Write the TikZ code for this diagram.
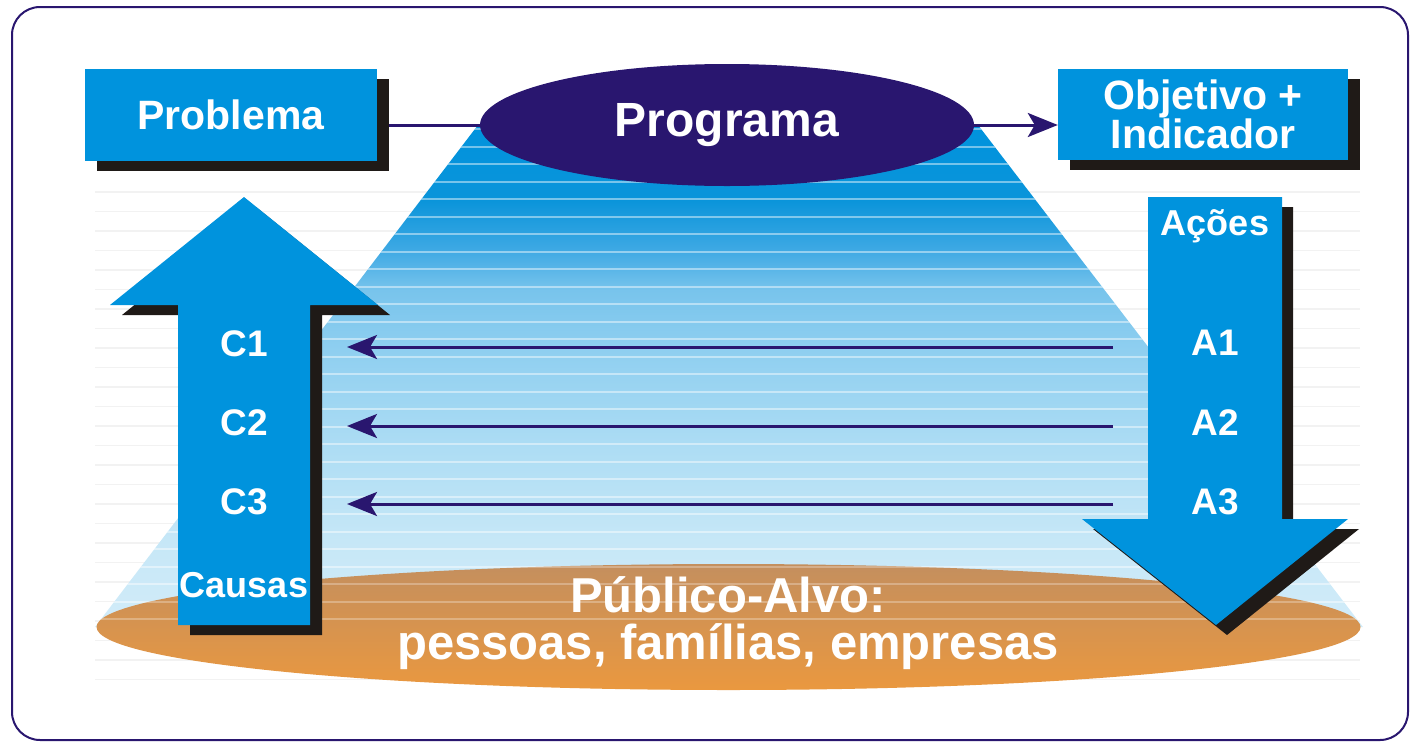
\documentclass[tikz,border=0pt]{standalone}
\usepackage{fontspec}
\setmainfont{Liberation Sans}
\usetikzlibrary{arrows.meta,shapes.geometric}
\definecolor{boxblue}{HTML}{0093DD}
\definecolor{navy}{HTML}{29166F}
\definecolor{shadowc}{HTML}{1F1A17}
\definecolor{ortop}{HTML}{C48F5E}
\definecolor{orbot}{HTML}{EA983F}
\definecolor{cA}{HTML}{0093DD}
\definecolor{cB}{HTML}{0A94DA}
\definecolor{cC}{HTML}{3EA9E4}
\definecolor{cD}{HTML}{78C4EC}
\definecolor{cE}{HTML}{8FCFF0}
\definecolor{cF}{HTML}{AEDDF4}
\definecolor{cG}{HTML}{C6E7F7}
\definecolor{cH}{HTML}{D2ECF9}
\pgfdeclareverticalshading{conefade}{100bp}{color(0bp)=(cH); color(25bp)=(cH); color(33.65bp)=(cG); color(42.6bp)=(cF); color(52.6bp)=(cE); color(58.55bp)=(cD); color(62.55bp)=(cC); color(67.55bp)=(cB); color(75bp)=(cA); color(100bp)=(cA)}
\begin{document}
\begin{tikzpicture}[x=1pt,y=-1pt,
  bluebox/.style={fill=boxblue,inner sep=0pt,text=white,font=\fontsize{41}{38}\selectfont\bfseries,align=center},
  boxshadow/.style={fill=shadowc,inner sep=0pt},
  conn/.style={navy,line width=3pt,-{Stealth[length=30pt,width=24pt,inset=7pt]}},
  plainconn/.style={navy,line width=3pt},
  lbl/.style={text=white,font=\fontsize{37}{40}\selectfont\bfseries,anchor=base,inner sep=0pt},
  slbl/.style={text=white,font=\fontsize{36}{40}\selectfont\bfseries,anchor=base,inner sep=0pt}]
\useasboundingbox (0,0) rectangle (1414,745);
% frame
\draw[navy,line width=2pt,rounded corners=28pt] (12,7) rectangle (1408,740);
% faint background stripes
\foreach \k in {0,...,25}
  \draw[black!5,line width=1.5pt] (95,192+19.5*\k) -- (1360,192+19.5*\k);
% trapezoid (light cone)
\shade[shading=conefade]
  (478,125) -- (978,125) -- (1363,627) -- (95,627) -- cycle;
\begin{scope}
  \clip (478,125) -- (978,125) -- (1363,627) -- (95,627) -- cycle;
  \foreach \k in {0,...,28}
    \draw[white,opacity=0.45,line width=2pt] (90,129.2+17.5*\k) -- (1370,129.2+17.5*\k);
\end{scope}
% target public ellipse
\shade[top color=ortop,bottom color=orbot] (728.5,627) ellipse [x radius=632pt,y radius=63pt];
\begin{scope}
  \clip (728.5,627) ellipse [x radius=632pt,y radius=63pt];
  \foreach \k in {0,...,28}
    \draw[white,opacity=0.28,line width=2pt] (90,129.2+17.5*\k) -- (1370,129.2+17.5*\k);
\end{scope}
% up arrow (Causas)
\fill[shadowc,shift={(12,10)}] (244,197) -- (378,305) -- (310,305) -- (310,625) -- (178,625) -- (178,305) -- (110,305) -- cycle;
\fill[boxblue] (244,197) -- (378,305) -- (310,305) -- (310,625) -- (178,625) -- (178,305) -- (110,305) -- cycle;
% down arrow (Acoes)
\fill[shadowc,shift={(11,10)}] (1148,197) -- (1282,197) -- (1282,519) -- (1348,519) -- (1216,625) -- (1082,519) -- (1148,519) -- cycle;
\fill[boxblue] (1148,197) -- (1282,197) -- (1282,519) -- (1348,519) -- (1216,625) -- (1082,519) -- (1148,519) -- cycle;
% boxes
\node[boxshadow,minimum width=292pt,minimum height=92pt] (probsh) at (243,125) {};
\node[bluebox,minimum width=292pt,minimum height=92pt] (prob) at (231,115) {Problema};
\node[boxshadow,minimum width=290pt,minimum height=91pt] (objsh) at (1215,124.5) {};
\node[bluebox,minimum width=290pt,minimum height=91pt] (obj) at (1203,114.5) {Objetivo +\\Indicador};
% programme ellipse and top connectors
\node[ellipse,fill=navy,inner sep=0pt,minimum width=494pt,minimum height=122pt,
  text=white,font=\fontsize{48}{50}\selectfont\bfseries] (prog) at (727,125) {Programa};
\draw[plainconn] (probsh.east |- prog.west) -- (prog.west);
\draw[conn] (prog.east) -- (prog.east -| obj.west);
% labels
\node[lbl] (c1) at (244,356) {C1};
\node[lbl] (c2) at (244,435) {C2};
\node[lbl] (c3) at (244,514) {C3};
\node[slbl] (causas) at (244,597) {Causas};
\node[slbl] (acoes) at (1215,235) {Ações};
\node[lbl] (a1) at (1215,355) {A1};
\node[lbl] (a2) at (1215,435) {A2};
\node[lbl] (a3) at (1215,514) {A3};
% horizontal arrows
\coordinate (a1s) at (1113,347); \coordinate (c1e) at (347,347);
\coordinate (a2s) at (1113,426); \coordinate (c2e) at (347,426);
\coordinate (a3s) at (1113,504); \coordinate (c3e) at (347,504);
\draw[conn] (a1s) -- (c1e);
\draw[conn] (a2s) -- (c2e);
\draw[conn] (a3s) -- (c3e);
% public text
\node[text=white,font=\fontsize{49}{47}\selectfont\bfseries,align=center,inner sep=0pt] (pub) at (728,623) {Público-Alvo:\\pessoas, famílias, empresas};
\end{tikzpicture}
\end{document}
